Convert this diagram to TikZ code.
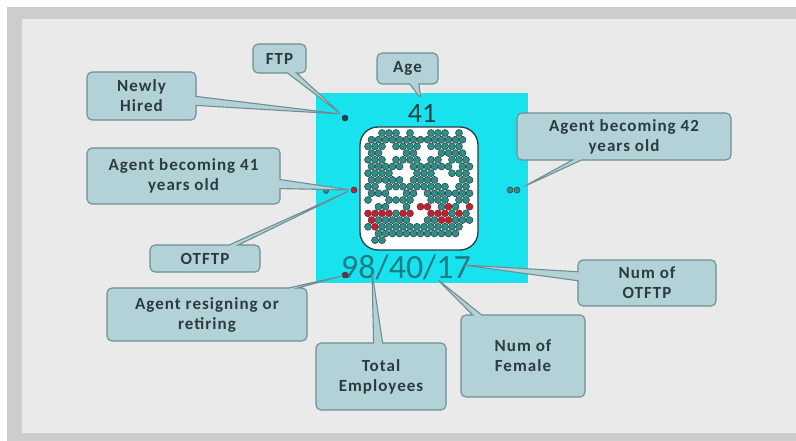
\documentclass[tikz,border=0pt]{standalone}
\usepackage{fontspec}
\usepackage{tikz}
\usetikzlibrary{shapes.callouts}
\setmainfont{Carlito}
\newfontfamily\boxfont[LetterSpace=6]{Carlito}

\definecolor{slidegray}{HTML}{CDCDCD}
\definecolor{slidetop}{HTML}{E3E3E3}
\definecolor{slidebot}{HTML}{EEEEEE}
\definecolor{boxfill}{HTML}{B3D2D7}
\definecolor{boxline}{HTML}{6F8E93}
\definecolor{boxtext}{HTML}{2C3B3E}
\definecolor{aqua}{HTML}{18E2EE}
\definecolor{agentg}{HTML}{2E8F87}
\definecolor{agentr}{HTML}{C2202E}
\definecolor{darkline}{HTML}{243F45}
\definecolor{numteal}{HTML}{1B7C84}

\tikzset{
  callbox/.style={rectangle callout, rounded corners=5pt, fill=boxfill,
    draw=boxline, line width=1.1pt, text=boxtext, align=center,
    callout pointer width=9pt, inner sep=2pt,
    font=\boxfont\bfseries\fontsize{17}{20}\selectfont},
  dotg/.style={fill=agentg, draw=darkline, line width=0.5pt},
  dotr/.style={fill=agentr, draw=darkline!60!agentr, line width=0.5pt},
  marker/.style={circle, inner sep=0pt, minimum size=6pt, draw=darkline, line width=0.5pt}
}

\begin{document}
\begin{tikzpicture}[x=1pt,y=-1pt]
\useasboundingbox (0,0) rectangle (796,441);
% slide background
\fill[white] (0,0) rectangle (830,441);
\fill[slidegray] (7,7) rectangle (830,460);
\fill[slidetop!40!slidebot] (22,19) rectangle (830,433);

% agent panel
\fill[aqua] (316,93) rectangle (528,283);
\filldraw[fill=white, draw=darkline, line width=1.3pt, rounded corners=18pt]
  (360,127) rectangle (478,250);
\foreach \row [count=\i from 0] in {
  {0,0,1,1,1,0,1,0,0,1,1,1,0,1,0},
  {1,1,1,1,1,1,1,1,1,1,1,1,1,1,0},
  {1,1,1,0,1,1,1,1,0,1,1,1,1,1,0},
  {1,1,0,0,0,1,1,0,0,0,1,1,1,1,0},
  {1,1,1,0,1,1,1,1,0,1,1,0,1,1,1},
  {1,1,1,1,1,0,1,1,1,1,1,1,0,1,1},
  {1,1,1,1,0,0,0,1,1,1,0,0,1,1,1},
  {1,1,1,1,1,0,1,1,1,1,0,0,0,1,1},
  {1,1,0,1,1,1,1,1,1,1,1,1,0,1,1},
  {1,1,1,0,0,1,1,0,1,1,1,1,1,1,1},
  {1,0,0,1,1,1,1,0,0,1,1,1,0,1,1},
  {0,1,1,0,0,1,0,2,2,0,1,2,1,0,2},
  {2,2,2,2,1,2,2,0,0,2,2,2,1,2,1},
  {2,1,1,1,1,1,0,0,1,1,2,2,1,1,1},
  {1,2,1,1,1,1,1,1,1,1,1,1,1,1,0},
  {0,1,1,1,1,1,1,1,1,1,1,1,1,0,0},
  {0,1,1,0,0,0,0,0,0,0,0,0,0,0,0}} {
  \foreach \c [count=\j from 0] in \row {
    \pgfmathsetmacro\px{368+7*\j+3.5*mod(\i,2)}
    \pgfmathsetmacro\py{133+6.7*\i}
    \ifcase\c\or
      \path[dotg] (\px,\py) circle (3.5);
    \or
      \path[dotr] (\px,\py) circle (3.5);
    \fi
  }
}

% counters
\node[font=\fontsize{28}{30}\selectfont, text=darkline] (age) at (422,113) {41};
\node[font=\fontsize{34}{36}\selectfont, text=numteal] (counts) at (406,267) {98/40/17};

% markers
\node[marker, fill=darkline] (mHired) at (345,118) {};
\node[marker, fill=agentr] (m41) at (354,190) {};
\node[marker, fill=agentg, minimum size=5pt] (mLeft) at (326,191) {};
\node[marker, fill=agentg] (m42a) at (510,190) {};
\node[marker, fill=agentg] (m42b) at (517,190) {};
\node[marker, fill=darkline!50!agentr] (mQuit) at (345,275) {};

\coordinate (pHired) at (341,114);
\coordinate (pAge) at (421,99);
\coordinate (p41) at (351,190);
\coordinate (p42) at (523,187);
\coordinate (pQuit) at (342,276);
\coordinate (pTotal) at (372,272);
\coordinate (pFemale) at (437,279);
\coordinate (pOtftp) at (463,265);

% callouts
\node[callbox, minimum width=53, minimum height=29, callout absolute pointer={(pHired)}] (ftp) at (279.5,58.5) {FTP};
\node[callbox, minimum width=61, minimum height=31, callout absolute pointer={(pAge)}] (agebox) at (407.5,68.5) {Age};
\node[callbox, minimum width=109, minimum height=48, callout absolute pointer={(pHired)}] (hired) at (141.5,96) {Newly\\Hired};
\node[callbox, minimum width=193, minimum height=56, callout absolute pointer={(p41)}] (become41) at (183.5,176) {Agent becoming 41\\years old};
\node[callbox, minimum width=110, minimum height=27, callout absolute pointer={(p41)}] (otftp) at (205,258.5) {OTFTP};
\node[callbox, minimum width=200, minimum height=53, callout absolute pointer={(pQuit)}] (quit) at (207,314.5) {Agent resigning or\\retiring};
\node[callbox, minimum width=130, minimum height=67, callout absolute pointer={(pTotal)}] (total) at (381,376.5) {Total\\Employees};
\node[callbox, minimum width=124, minimum height=82, callout absolute pointer={(pFemale)}] (female) at (523,356) {Num of\\Female};
\node[callbox, minimum width=138, minimum height=46, callout absolute pointer={(pOtftp)}] (numotftp) at (647,283) {Num of\\OTFTP};
\node[callbox, minimum width=214, minimum height=47, callout absolute pointer={(p42)}] (become42) at (624,136.5) {Agent becoming 42\\years old};
\end{tikzpicture}
\end{document}
